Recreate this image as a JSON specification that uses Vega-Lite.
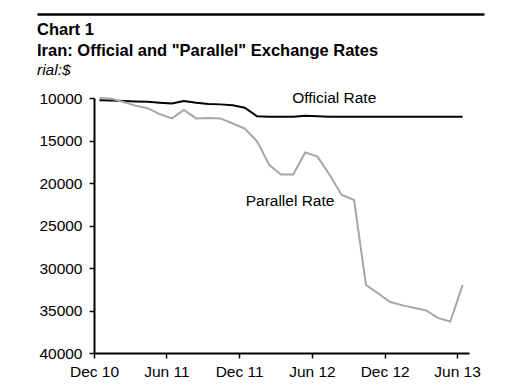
{
  "$schema": "https://vega.github.io/schema/vega-lite/v6.json",
  "width": 375,
  "height": 255,
  "autosize": {"type": "none"},
  "padding": {"left": 94, "top": 98, "right": 50, "bottom": 32},
  "background": "white",
  "config": {
    "font": "Liberation Sans",
    "view": {"stroke": null},
    "axis": {"labelFont": "Liberation Sans", "labelFontSize": 15.5, "labelColor": "black", "domainColor": "black", "tickColor": "black", "grid": false}
  },
  "title": {
    "text": ["Chart 1", "Iran: Official and \"Parallel\" Exchange Rates"],
    "subtitle": "rial:$",
    "anchor": "start",
    "frame": "bounds",
    "font": "Liberation Sans",
    "fontSize": 16.5,
    "fontWeight": "bold",
    "lineHeight": 21,
    "color": "black",
    "subtitleFont": "Liberation Sans",
    "subtitleFontSize": 15.5,
    "subtitleFontStyle": "italic",
    "subtitleColor": "black",
    "subtitlePadding": 3,
    "offset": 6,
    "dy": 70
  },
  "datasets": {
    "rates": [
      {"date": "2010-12-15", "series": "Official", "value": 10270},
      {"date": "2011-01-15", "series": "Official", "value": 10300},
      {"date": "2011-02-15", "series": "Official", "value": 10350},
      {"date": "2011-03-15", "series": "Official", "value": 10400},
      {"date": "2011-04-15", "series": "Official", "value": 10450},
      {"date": "2011-05-15", "series": "Official", "value": 10550},
      {"date": "2011-06-15", "series": "Official", "value": 10650},
      {"date": "2011-07-15", "series": "Official", "value": 10350},
      {"date": "2011-08-15", "series": "Official", "value": 10550},
      {"date": "2011-09-15", "series": "Official", "value": 10700},
      {"date": "2011-10-15", "series": "Official", "value": 10750},
      {"date": "2011-11-15", "series": "Official", "value": 10850},
      {"date": "2011-12-15", "series": "Official", "value": 11150},
      {"date": "2012-01-15", "series": "Official", "value": 12150},
      {"date": "2012-02-15", "series": "Official", "value": 12200},
      {"date": "2012-03-15", "series": "Official", "value": 12200},
      {"date": "2012-04-15", "series": "Official", "value": 12200},
      {"date": "2012-05-15", "series": "Official", "value": 12100},
      {"date": "2012-06-15", "series": "Official", "value": 12150},
      {"date": "2012-07-15", "series": "Official", "value": 12200},
      {"date": "2012-08-15", "series": "Official", "value": 12200},
      {"date": "2012-09-15", "series": "Official", "value": 12200},
      {"date": "2012-10-15", "series": "Official", "value": 12200},
      {"date": "2012-11-15", "series": "Official", "value": 12200},
      {"date": "2012-12-15", "series": "Official", "value": 12200},
      {"date": "2013-01-15", "series": "Official", "value": 12200},
      {"date": "2013-02-15", "series": "Official", "value": 12200},
      {"date": "2013-03-15", "series": "Official", "value": 12200},
      {"date": "2013-04-15", "series": "Official", "value": 12200},
      {"date": "2013-05-15", "series": "Official", "value": 12200},
      {"date": "2013-06-15", "series": "Official", "value": 12200},
      {"date": "2010-12-15", "series": "Parallel", "value": 10000},
      {"date": "2011-01-15", "series": "Parallel", "value": 10100},
      {"date": "2011-02-15", "series": "Parallel", "value": 10500},
      {"date": "2011-03-15", "series": "Parallel", "value": 10900},
      {"date": "2011-04-15", "series": "Parallel", "value": 11200},
      {"date": "2011-05-15", "series": "Parallel", "value": 11900},
      {"date": "2011-06-15", "series": "Parallel", "value": 12400},
      {"date": "2011-07-15", "series": "Parallel", "value": 11400},
      {"date": "2011-08-15", "series": "Parallel", "value": 12400},
      {"date": "2011-09-15", "series": "Parallel", "value": 12350},
      {"date": "2011-10-15", "series": "Parallel", "value": 12400},
      {"date": "2011-11-15", "series": "Parallel", "value": 13000},
      {"date": "2011-12-15", "series": "Parallel", "value": 13600},
      {"date": "2012-01-15", "series": "Parallel", "value": 15100},
      {"date": "2012-02-15", "series": "Parallel", "value": 17900},
      {"date": "2012-03-15", "series": "Parallel", "value": 19000},
      {"date": "2012-04-15", "series": "Parallel", "value": 19000},
      {"date": "2012-05-15", "series": "Parallel", "value": 16400},
      {"date": "2012-06-15", "series": "Parallel", "value": 16900},
      {"date": "2012-07-15", "series": "Parallel", "value": 19000},
      {"date": "2012-08-15", "series": "Parallel", "value": 21400},
      {"date": "2012-09-15", "series": "Parallel", "value": 22000},
      {"date": "2012-10-15", "series": "Parallel", "value": 32000},
      {"date": "2012-11-15", "series": "Parallel", "value": 33000},
      {"date": "2012-12-15", "series": "Parallel", "value": 34000},
      {"date": "2013-01-15", "series": "Parallel", "value": 34400},
      {"date": "2013-02-15", "series": "Parallel", "value": 34700},
      {"date": "2013-03-15", "series": "Parallel", "value": 35000},
      {"date": "2013-04-15", "series": "Parallel", "value": 35900},
      {"date": "2013-05-15", "series": "Parallel", "value": 36300},
      {"date": "2013-06-15", "series": "Parallel", "value": 32000}
    ],
    "labels": [
      {"date": "2012-07-27", "value": 9960, "label": "Official Rate"},
      {"date": "2012-04-07", "value": 22080, "label": "Parallel Rate"}
    ],
    "rule": [{"p": 0}, {"p": 1}]
  },
  "layer": [
    {
      "layer": [
        {
          "data": {"name": "rates"},
          "mark": {"type": "line", "strokeWidth": 2, "clip": false},
          "encoding": {
            "x": {
              "field": "date",
              "type": "temporal",
              "scale": {"type": "utc", "domain": [{"year": 2010, "month": 12, "date": 1, "utc": true}, {"year": 2013, "month": 7, "date": 1, "utc": true}]},
              "axis": {
                "orient": "bottom",
                "title": null,
                "values": [
                  {"year": 2010, "month": 12, "date": 1, "utc": true},
                  {"year": 2011, "month": 6, "date": 1, "utc": true},
                  {"year": 2011, "month": 12, "date": 1, "utc": true},
                  {"year": 2012, "month": 6, "date": 1, "utc": true},
                  {"year": 2012, "month": 12, "date": 1, "utc": true},
                  {"year": 2013, "month": 6, "date": 1, "utc": true}
                ],
                "labelExpr": "utcFormat(datum.value, '%b %y')",
                "domainWidth": 2,
                "tickWidth": 1.5,
                "tickSize": 5,
                "labelPadding": 6,
                "labelFlush": false,
                "labelOverlap": false
              }
            },
            "y": {
              "field": "value",
              "type": "quantitative",
              "scale": {"domain": [10000, 40000], "reverse": true, "nice": false, "zero": false},
              "axis": {
                "title": null,
                "values": [10000, 15000, 20000, 25000, 30000, 35000, 40000],
                "format": "d",
                "domainWidth": 2,
                "tickWidth": 1.5,
                "tickSize": 5,
                "labelPadding": 7
              }
            },
            "color": {
              "field": "series",
              "type": "nominal",
              "scale": {"domain": ["Official", "Parallel"], "range": ["#000000", "#a6a6a6"]},
              "legend": null
            }
          }
        },
        {
          "data": {"name": "labels"},
          "mark": {"type": "text", "font": "Liberation Sans", "fontSize": 15.5, "color": "black", "align": "center", "baseline": "middle", "clip": false},
          "encoding": {
            "x": {"field": "date", "type": "temporal"},
            "y": {"field": "value", "type": "quantitative"},
            "text": {"field": "label"}
          }
        }
      ]
    },
    {
      "data": {"name": "rule"},
      "mark": {"type": "rule", "opacity": 0},
      "encoding": {
        "x": {
          "field": "p",
          "type": "quantitative",
          "scale": {"domain": [0, 1], "range": [-57, 390]},
          "axis": {"orient": "top", "offset": 84, "domainWidth": 2.5, "domainColor": "black", "labels": false, "ticks": false, "title": null, "grid": false}
        }
      }
    }
  ],
  "resolve": {"scale": {"x": "independent"}, "axis": {"x": "independent"}}
}
